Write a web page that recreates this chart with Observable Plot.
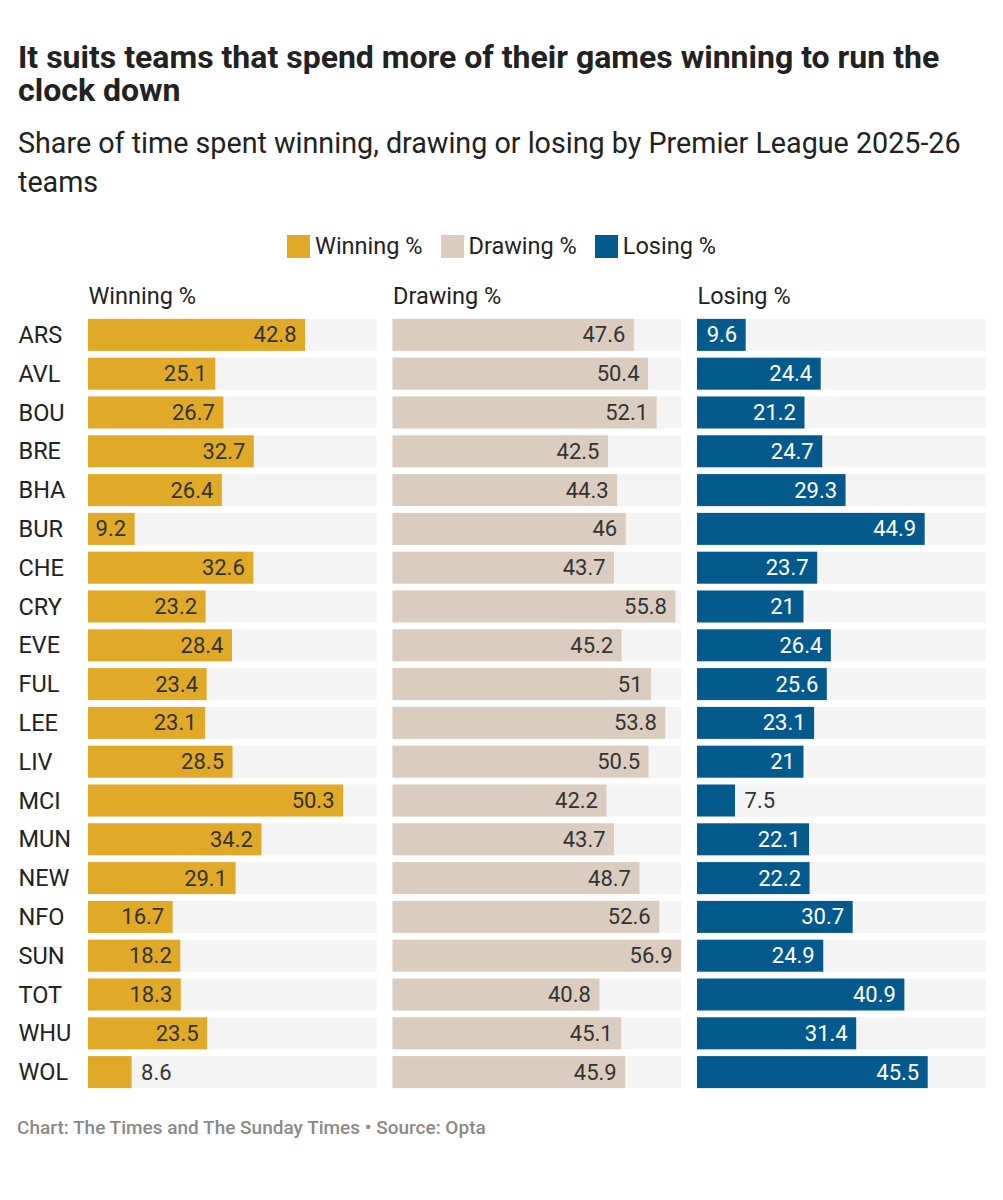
<!DOCTYPE html>
<html>
<head>
<meta charset="utf-8">
<script src="https://cdn.jsdelivr.net/npm/d3@7"></script>
<script src="https://cdn.jsdelivr.net/npm/@observablehq/plot@0.6"></script>
<style>
  html, body { margin: 0; padding: 0; background: #fff; }
  body { width: 1003px; height: 1200px; position: relative; font-family: Roboto, "Noto Sans", sans-serif; color: #222; }
  .title { position: absolute; left: 18px; top: 41px; width: 960px; font-size: 32px; line-height: 33px; font-weight: 700; color: #222; }
  .subtitle { position: absolute; left: 18px; top: 124px; width: 970px; font-size: 28.7px; line-height: 39px; font-weight: 400; color: #222; }
  .legend { position: absolute; left: 0; top: 232px; width: 1003px; display: flex; justify-content: center; gap: 18px; font-size: 23.5px; color: #222; }
  .legend .item { display: flex; align-items: center; }
  .legend .sw { width: 23px; height: 23px; margin-right: 5px; }
  #chart { position: absolute; left: 0; top: 270px; }
  .footer { position: absolute; left: 17px; top: 1116px; font-size: 19px; font-weight: 500; color: #8a8a8a; }
</style>
</head>
<body>
<div class="title">It suits teams that spend more of their games winning to run the clock down</div>
<div class="subtitle">Share of time spent winning, drawing or losing by Premier League 2025-26 teams</div>
<div class="legend" id="legend"></div>
<div id="chart"></div>
<div class="footer">Chart: The Times and The Sunday Times • Source: Opta</div>
<script>
const teams = ["ARS","AVL","BOU","BRE","BHA","BUR","CHE","CRY","EVE","FUL","LEE","LIV","MCI","MUN","NEW","NFO","SUN","TOT","WHU","WOL"];
const winning = [42.8,25.1,26.7,32.7,26.4,9.2,32.6,23.2,28.4,23.4,23.1,28.5,50.3,34.2,29.1,16.7,18.2,18.3,23.5,8.6];
const drawing = [47.6,50.4,52.1,42.5,44.3,46,43.7,55.8,45.2,51,53.8,50.5,42.2,43.7,48.7,52.6,56.9,40.8,45.1,45.9];
const losing = [9.6,24.4,21.2,24.7,29.3,44.9,23.7,21,26.4,25.6,23.1,21,7.5,22.1,22.2,30.7,24.9,40.9,31.4,45.5];

const measures = ["Winning %", "Drawing %", "Losing %"];
const colors = ["#e0aa28", "#dacdbf", "#045a8d"];
const labelColors = ["#333333", "#333333", "#ffffff"];

const series = [winning, drawing, losing];
const rows = [];
measures.forEach((m, i) => {
  teams.forEach((t, j) => rows.push({team: t, measure: m, value: series[i][j], idx: i}));
});
const xMax = d3.max(rows, d => d.value);
const backdrop = measures.flatMap(m => teams.map(t => ({team: t, measure: m})));

// legend
const legend = document.getElementById("legend");
measures.forEach((m, i) => {
  const item = document.createElement("div");
  item.className = "item";
  const sw = document.createElement("div");
  sw.className = "sw";
  sw.style.background = colors[i];
  const label = document.createElement("span");
  label.textContent = m;
  item.append(sw, label);
  legend.append(item);
});

// short bars get their label outside, after the bar end
const inside = d => d.value >= 9;

const chart = Plot.plot({
  width: 1003,
  height: 827,
  marginLeft: 88,
  marginRight: 17.5,
  marginTop: 45,
  marginBottom: 5,
  style: {fontFamily: "Roboto, sans-serif", fontSize: "23px", color: "#222"},
  fx: {domain: measures, paddingInner: 0.0525, paddingOuter: 0, round: false, axis: null, label: null},
  x: {domain: [0, xMax], axis: null},
  y: {domain: teams, paddingInner: 0.175, paddingOuter: 0.1, round: false, label: null},
  color: {domain: measures, range: colors},
  marks: [
    Plot.barX(backdrop, {fx: "measure", y: "team", x1: 0, x2: xMax, fill: "#f4f4f4"}),
    Plot.barX(rows, {fx: "measure", y: "team", x: "value", fill: "measure"}),
    Plot.text(rows.filter(inside), {
      fx: "measure", y: "team", x: "value", text: d => String(d.value),
      textAnchor: "end", dx: -9, fill: d => labelColors[d.idx], fontSize: 22
    }),
    Plot.text(rows.filter(d => !inside(d)), {
      fx: "measure", y: "team", x: "value", text: d => String(d.value),
      textAnchor: "start", dx: 9, fill: "#333333", fontSize: 22
    }),
    Plot.text(measures, {
      fx: d => d, text: d => d, frameAnchor: "top-left", lineAnchor: "bottom",
      dy: -12, fill: "#222", fontSize: 23.5
    }),
    Plot.axisY({tickSize: 0, tickPadding: 70, textAnchor: "start", fontSize: 23.5, fill: "#222", label: null})
  ]
});
document.getElementById("chart").append(chart);
</script>
</body>
</html>
